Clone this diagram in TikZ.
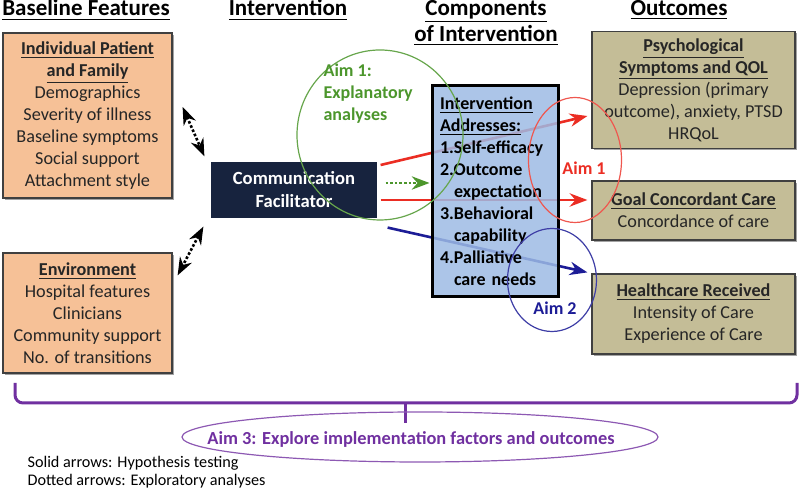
\documentclass[tikz,border=0pt]{standalone}
\usepackage{fontspec}
\setmainfont{Carlito}
\usetikzlibrary{arrows.meta,shapes.geometric,backgrounds,shadows}
\tikzset{>=Stealth}
\definecolor{peach}{RGB}{246,193,151}
\definecolor{khaki}{RGB}{196,189,151}
\definecolor{lightblue}{RGB}{157,187,228}
\definecolor{navy}{RGB}{23,35,62}
\definecolor{aimgreen}{RGB}{76,150,44}
\definecolor{aimred}{RGB}{235,45,35}
\definecolor{aimblue}{RGB}{28,28,150}
\definecolor{aimpurple}{RGB}{112,48,160}
\newcommand{\hang}{\leavevmode\hspace*{7pt}}

\tikzset{
  header/.style={font=\fontsize{11.5}{13}\selectfont\bfseries, align=center, inner sep=0pt},
  boxshadow/.style={drop shadow={shadow xshift=0.8pt, shadow yshift=-0.8pt, opacity=0.6, fill=black!60}},
  basebox/.style={draw=black!75, fill=peach, boxshadow, align=center, minimum width=84.5pt, text=black!85, font=\fontsize{9.1}{11}\selectfont},
  outbox/.style={draw=black!75, fill=khaki, boxshadow, align=center, minimum width=101.5pt, text=black!85, font=\fontsize{9.1}{11}\selectfont},
  aimtext/.style={font=\fontsize{9}{11}\selectfont\bfseries, inner sep=0pt},
  legend/.style={font=\fontsize{8.1}{9}\selectfont, anchor=west, inner sep=0pt},
}

\begin{document}
\begin{tikzpicture}[x=0.5pt, y=-0.5pt, line width=0.6pt]
		\useasboundingbox (0,0) rectangle (800,490);
		
		% Headers
		\node[header] (hbase) at (86,10) {\underline{Baseline Features}};
		\node[header] (hint) at (288,10) {\underline{Intervention}};
		\node[header] (hcomp) at (486,23) {\underline{Components}\\\underline{of Intervention}};
		\node[header] (hout) at (679,10) {\underline{Outcomes}};
		
		% Baseline boxes
		\node[basebox, minimum height=82.5pt] (ind) at (87.5,115.5) {\textbf{\underline{Individual Patient}}\\\textbf{\underline{and Family}}\\Demographics\\Severity of illness\\Baseline symptoms\\Social support\\Attachment style};
		\node[basebox, minimum height=60pt] (env) at (87.5,313) {\textbf{\underline{Environment}}\\Hospital features\\Clinicians\\Community support\\No. of transitions};
		
		% Intervention
		\node[draw=navy, fill=navy, text=white, align=center, minimum width=82pt, minimum height=27pt, font=\fontsize{9.3}{11.5}\selectfont\bfseries] (fac) at (294,190) {Communication\\Facilitator};
		
		% Components
		\node[draw=black, line width=1.5pt, fill=lightblue, fill opacity=0.85, text opacity=1, text width=55pt, align=left, inner sep=4pt, minimum height=105.5pt, font=\fontsize{9}{11}\selectfont\bfseries] (ib) at (495,191.5) {\underline{Intervention}\\\underline{Addresses:}\\1.Self-efficacy\\2.Outcome\\\hang expectation\\3.Behavioral\\\hang capability\\4.Palliative\\\hang care needs};
		
		% Outcome boxes
		\node[outbox, minimum height=57pt] (psy) at (693.5,90) {\textbf{\underline{Psychological}}\\\textbf{\underline{Symptoms and QOL}}\\Depression (primary\\outcome), anxiety, PTSD\\HRQoL};
		\node[outbox, minimum height=29.5pt] (goal) at (693.5,210.5) {\textbf{\underline{Goal Concordant Care}}\\Concordance of care};
		\node[outbox, minimum height=40pt] (hc) at (693.5,314) {\textbf{\underline{Healthcare Received}}\\Intensity of Care\\Experience of Care};
		
		% Arrows
		\begin{scope}[on background layer]
		\draw[aimred, ->, line width=1.3pt] ([xshift=2pt,yshift=12.5pt]fac.east) -- ([xshift=-2pt,yshift=-13pt]psy.west);
		\draw[aimred, ->, line width=1.3pt] ([xshift=2pt,yshift=-5pt]fac.east) -- ([xshift=-2pt,yshift=5.25pt]goal.west);
		\draw[aimblue, ->, line width=1.3pt] ([xshift=5.5pt,yshift=-5pt]fac.south east) -- ([xshift=-2pt,yshift=0.5pt]hc.north west);
		\end{scope}
		\draw[aimgreen, ->, line width=1.3pt, densely dotted] ([xshift=4.5pt,yshift=3.5pt]fac.east) -- ([xshift=-0.5pt,yshift=4.25pt]ib.west);
		\draw[<->, line width=1.3pt, densely dotted] ([xshift=5pt,yshift=4.25pt]ind.east) -- ([xshift=-3.5pt,yshift=3pt]fac.north west);
		\draw[<->, line width=1.3pt, densely dotted] ([xshift=-4pt,yshift=-4.5pt]fac.south west) -- ([xshift=2.5pt,yshift=-11.5pt]env.north east);
		
		% Aims
		\draw[aimgreen!85] (380,135) ellipse [x radius=83, y radius=85];
		\node[aimtext, text=aimgreen, align=left, anchor=north west] (aim1g) at (323,63) {Aim 1:\\Explanatory\\analyses};
		\draw[aimred!80] (575,160) ellipse [x radius=46.5, y radius=62.5];
		\node[aimtext, text=aimred] (aim1r) at (584,168) {Aim 1};
		\draw[aimblue!85] (552,280) ellipse [x radius=44.5, y radius=51.5];
		\node[aimtext, text=aimblue] (aim2) at (555,308) {Aim 2};
		
		% Bracket
		\draw[aimpurple, line width=1.5pt, rounded corners=4pt] (15,383) -- (15,403) -- (797,403) -- (797,383);
		\draw[aimpurple, line width=1.5pt] (405,403) -- (405,423);
		\node[ellipse, draw=aimpurple!80, minimum width=238pt, minimum height=25pt, inner sep=0pt] (aim3) at (420,437) {};
		\node[aimtext, text=aimpurple, font=\fontsize{9.2}{11}\selectfont\bfseries] (aim3t) at (411,439) {Aim 3: Explore implementation factors and outcomes};
		
		% Legend
		\node[legend] (solid) at (27,463) {Solid arrows: Hypothesis testing};
		\node[legend] (dotted) at (27,481) {Dotted arrows: Exploratory analyses};
	\end{tikzpicture}
\end{document}
